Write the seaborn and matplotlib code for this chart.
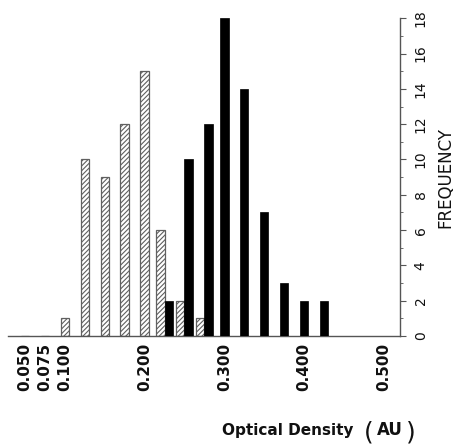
import numpy as np
import matplotlib
matplotlib.use('Agg')
import matplotlib.pyplot as plt
import seaborn as sns

# Centros de los intervalos (densidad optica)
bins = [0.050, 0.075, 0.100, 0.125, 0.150, 0.175, 0.200, 0.225,
        0.250, 0.275, 0.300, 0.325, 0.350, 0.375, 0.400, 0.425]
# Frecuencias grupo rayado
freq_rayado = [0, 0, 1, 10, 9, 12, 15, 6, 2, 1, 0, 0, 0, 0, 0, 0]
# Frecuencias grupo negro
freq_negro = [0, 0, 0, 0, 0, 0, 0, 2, 10, 12, 18, 14, 7, 3, 2, 2]

xticks = [0.050, 0.075, 0.100, 0.200, 0.300, 0.400, 0.500]
xtick_labels = ['0.050', '0.075', '0.100', '0.200', '0.300', '0.400', '0.500']
yticks = list(range(0, 19, 2))

sns.set_theme(style='white')
plt.rcParams['font.family'] = ['DejaVu Sans']
plt.rcParams['hatch.color'] = '#707070'
plt.rcParams['hatch.linewidth'] = 0.8

fig = plt.figure(figsize=(4.58, 4.44), dpi=100)
ax = fig.add_axes([0.017, 0.243, 0.856, 0.716])

ancho = 0.0105
x = np.array(bins)
r = np.array(freq_rayado)
n = np.array(freq_negro)
# donde coinciden ambos grupos, las barras van lado a lado
ambos = (r > 0) & (n > 0)
desp = np.where(ambos, ancho / 2, 0)

ax.bar(x - desp, r, width=ancho, color='white', edgecolor='#606060',
       hatch='///////', linewidth=0.9, zorder=2)
ax.bar(x + desp, n, width=ancho, color='black', edgecolor='black',
       linewidth=0.5, zorder=3)

ax.set_xlim(0.0285, 0.520)
ax.set_ylim(0, 18)

for s in ['top', 'left']:
    ax.spines[s].set_visible(False)
ax.spines['bottom'].set_color('#555555')
ax.spines['right'].set_color('#555555')
ax.spines['bottom'].set_linewidth(1.0)
ax.spines['right'].set_linewidth(1.0)

ax.set_xticks(xticks)
ax.set_xticklabels(xtick_labels, rotation=90, fontsize=11, fontweight='semibold',
                   color='#111111')
ax.tick_params(axis='x', length=0, pad=5)

ax.yaxis.tick_right()
ax.set_yticks(yticks)
ax.set_yticks(range(1, 18, 2), minor=True)
ax.set_yticklabels([str(v) for v in yticks], rotation=90, va='center',
                   fontsize=10, color='#111111')
ax.tick_params(axis='y', which='major', length=4, width=0.8, color='#555555',
               direction='out', right=True, left=False, pad=6)
ax.tick_params(axis='y', which='minor', length=2.5, width=0.6, color='#555555',
               direction='out', right=True, left=False)

ax.yaxis.set_label_position('right')
ax.set_ylabel('FREQUENCY', fontsize=12, rotation=90, labelpad=6,
              color='#111111')
ax.grid(False)

# etiqueta del eje x con parentesis grandes
fig.text(222 / 458, 1 - 430 / 444, 'Optical Density', fontsize=11,
         fontweight='semibold', ha='left', va='center', color='#111111')
fig.text(369 / 458, 1 - 432 / 444, '(', fontsize=18, ha='center',
         va='center', color='#111111')
fig.text(390 / 458, 1 - 430 / 444, 'AU', fontsize=12, fontweight='bold',
         ha='center', va='center', color='#111111')
fig.text(411 / 458, 1 - 432 / 444, ')', fontsize=18, ha='center',
         va='center', color='#111111')

fig.savefig('out.png', dpi=100)
